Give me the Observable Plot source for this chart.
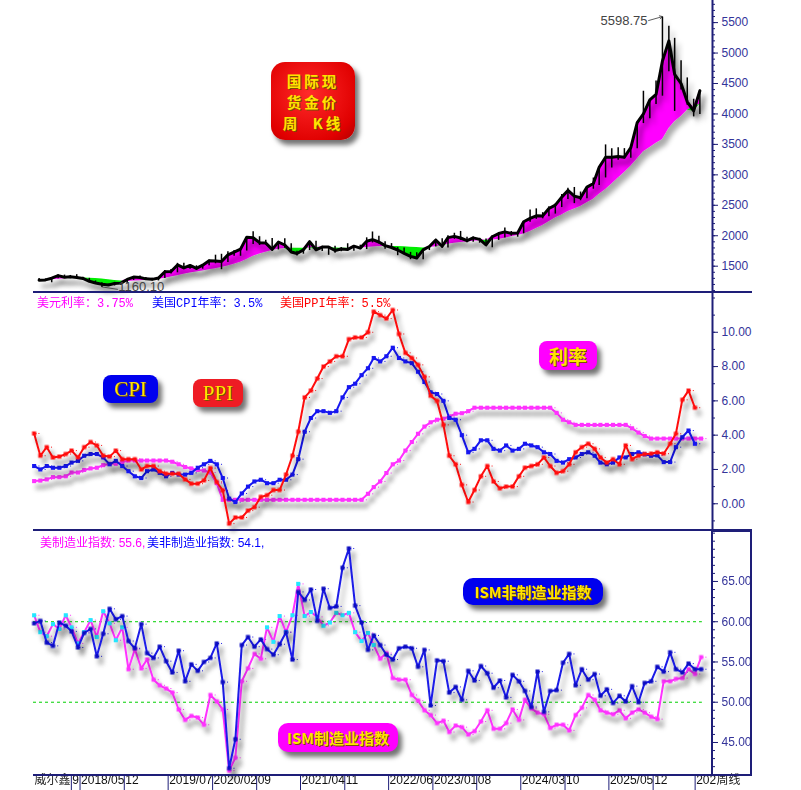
<!DOCTYPE html>
<html><head><meta charset="utf-8">
<script src="https://cdn.jsdelivr.net/npm/d3@7"></script>
<script src="https://cdn.jsdelivr.net/npm/@observablehq/plot@0.6"></script>
<style>
body{margin:0;background:#fff;}
#root{position:relative;width:801px;height:790px;overflow:hidden;background:#fff;font-family:"Liberation Sans",Arial,"Noto Sans CJK SC",sans-serif;}
.panel{position:absolute;left:0;}
.sep{position:absolute;background:#1e1e78;}
.badge{position:absolute;display:flex;align-items:center;justify-content:center;color:#ffe400;font-weight:bold;box-shadow:4px 5px 5px rgba(0,0,0,.55);text-shadow:1px 1px 0 #7a5000;z-index:5;}
.hdr{position:absolute;white-space:pre;font-size:12px;z-index:5;}
</style></head><body><div id="root"></div>
<script>
// ---------------- DATA ----------------
// Gold weekly K-line, summarised per month from 2017-10 to 2026-07
const goldHigh = [1306,1299,1307,
 1366,1362,1356,1369,1326,1309,1266,1235,1214,1243,1238,1285,
 1326,1347,1324,1310,1305,1439,1453,1555,1557,1517,1515,1523,
 1611,1689,1704,1747,1765,1789,1984,2075,1992,1933,1965,1906,
 1959,1875,1755,1798,1913,1916,1834,1832,1834,1814,1877,1831,
 1853,1974,2070,1998,1910,1879,1814,1808,1735,1729,1786,1833,
 1949,1960,2009,2049,2079,1983,1987,1966,1953,2009,2052,2135,
 2078,2065,2222,2431,2450,2387,2483,2531,2685,2790,2801,2726,
 2817,2956,3128,3500,3435,3452,3439,3453,3871,4381,4245,4550,
 5598,5450,5250,4880,4600,4250,4400];
const goldLow = [1260,1264,1236,
 1302,1307,1303,1310,1282,1245,1211,1160,1180,1183,1196,1221,
 1275,1311,1281,1266,1266,1306,1381,1400,1459,1459,1445,1459,
 1517,1548,1451,1567,1670,1671,1757,1863,1848,1860,1764,1775,
 1802,1717,1677,1705,1765,1750,1751,1687,1721,1746,1759,1753,
 1780,1781,1890,1872,1787,1805,1681,1709,1615,1618,1616,1765,
 1823,1804,1809,1949,1932,1893,1902,1885,1846,1810,1931,1973,
 2002,1984,2039,2229,2277,2286,2319,2364,2471,2604,2536,2583,
 2615,2772,2833,2957,3121,3248,3268,3282,3436,3850,3931,4163,
 4300,4700,4050,4400,4150,3960,4000];
const goldClose = [1271,1275,1303,
 1345,1318,1325,1315,1298,1252,1224,1202,1192,1215,1222,1282,
 1321,1313,1292,1284,1305,1409,1413,1520,1472,1513,1464,1517,
 1589,1585,1577,1686,1730,1781,1975,1967,1886,1879,1776,1895,
 1848,1734,1708,1768,1903,1770,1814,1814,1757,1783,1774,1829,
 1797,1909,1937,1897,1838,1807,1766,1711,1661,1634,1769,1824,
 1928,1827,1969,1990,1963,1919,1965,1940,1849,1983,2036,2063,
 2039,2044,2229,2286,2327,2326,2447,2503,2634,2744,2650,2625,
 2798,2858,3124,3288,3289,3303,3290,3448,3858,4000,4230,4320,
 4870,5200,4650,4500,4200,4050,4380];
const goldMA = [1262,1268,1276,
 1285,1292,1300,1305,1306,1303,1298,1290,1278,1265,1255,1250,
 1255,1262,1270,1276,1282,1300,1322,1345,1368,1390,1405,1420,
 1440,1460,1480,1505,1530,1565,1610,1665,1700,1730,1758,1780,
 1790,1795,1795,1795,1800,1805,1805,1805,1800,1795,1795,1798,
 1800,1805,1815,1822,1825,1825,1822,1818,1812,1805,1800,1805,
 1820,1840,1860,1875,1888,1898,1908,1918,1926,1932,1940,1960,
 1985,2005,2030,2070,2120,2170,2230,2290,2340,2400,2440,2480,
 2540,2600,2680,2760,2850,2950,3040,3140,3260,3380,3450,3520,
 3580,3760,3870,3960,4060,4120,4160];

// Monthly macro series, data months from 2017-09
const fedRate = [1.32,1.35,1.42,1.55,1.55,1.6,1.82,1.82,1.97,2.06,2.1,2.25,2.33,2.33,2.43,2.52,
 2.52,2.52,2.52,2.52,2.52,2.52,
 2.45,2.3,2.14,2.06,1.97,1.94,1.82,1.2,
 0.23,0.23,0.23,0.23,0.23,0.23,0.23,0.23,0.23,0.23,0.23,0.23,0.23,0.23,0.23,0.23,0.23,0.23,0.23,0.23,0.23,0.23,0.23,
 0.58,0.97,1.3,1.79,2.3,2.52,3.1,3.6,4.08,4.5,4.75,4.9,4.96,5.09,5.25,5.28,5.4,5.6,
 5.6,5.6,5.6,5.6,5.6,5.6,5.6,5.6,5.6,5.6,5.6,5.6,
 5.3,4.9,4.75,4.6,4.6,4.6,4.6,4.6,4.6,4.6,4.6,4.6,
 4.4,4.15,3.95,3.8,3.8,3.8,3.8,3.8,3.8,3.8,3.8,3.8];
const cpiYoY = [2.2,2.0,2.2,2.1,
 2.1,2.2,2.4,2.5,2.8,2.9,2.9,2.7,2.3,2.5,2.2,1.9,
 1.6,1.5,1.9,2.0,1.8,1.6,1.8,1.7,1.7,1.8,2.1,2.3,
 2.5,2.3,1.5,0.3,0.1,0.6,1.0,1.3,1.4,1.2,1.2,1.4,
 1.4,1.7,2.6,4.2,5.0,5.4,5.4,5.3,5.4,6.2,6.8,7.0,
 7.5,7.9,8.5,8.3,8.6,9.1,8.5,8.3,8.2,7.7,7.1,6.5,
 6.4,6.0,5.0,4.9,4.0,3.0,3.2,3.7,3.7,3.2,3.1,3.4,
 3.1,3.2,3.5,3.4,3.3,3.0,2.9,2.5,2.4,2.6,2.7,2.9,
 3.0,2.8,2.4,2.3,2.4,2.7,2.7,2.9,3.0,2.88,2.8,2.82,
 2.43,2.43,3.3,3.88,4.27,3.5];
const ppiYoY = [4.1,2.8,3.3,2.7,
 2.75,2.9,3.1,2.7,3.3,3.6,3.4,2.8,2.75,3.1,2.6,2.6,
 2.6,2.0,2.2,2.2,1.9,1.75,1.75,1.75,1.42,1.17,1.17,1.36,
 2.08,1.27,0.78,-1.16,-0.8,-0.8,-0.4,-0.2,0.4,0.5,0.8,0.8,
 1.7,2.8,4.2,6.2,6.6,7.3,8.0,8.3,8.6,8.6,9.6,9.7,
 9.7,10.0,11.2,11.0,10.8,11.3,9.9,8.8,8.5,8.1,7.4,6.3,
 6.0,4.6,2.8,2.3,1.1,0.1,0.8,1.6,2.2,1.3,0.9,1.0,
 1.0,1.6,2.1,2.2,2.3,2.7,2.2,1.8,1.9,2.3,3.0,3.3,
 3.5,3.2,2.7,2.4,2.6,2.3,3.4,2.6,2.8,2.9,2.92,3.0,
 2.92,3.5,4.08,6.06,6.6,5.6];
const ismMfg = [60.8,58.7,58.2,59.7,
 59.1,60.8,59.3,57.3,58.7,60.2,58.1,61.3,59.8,57.7,59.3,54.1,
 56.6,54.2,55.3,52.8,52.1,51.7,51.2,49.1,47.8,48.3,48.1,47.2,
 50.9,50.1,49.1,41.5,43.1,52.6,54.2,56.0,55.4,59.3,57.5,60.7,
 58.7,60.8,64.7,60.7,61.2,60.6,59.5,59.9,61.1,60.8,61.1,58.7,
 57.6,58.6,57.1,55.4,56.1,53.0,52.8,52.8,50.9,50.2,49.0,48.4,
 47.4,47.7,46.3,47.1,46.9,46.0,46.4,47.6,49.0,46.7,46.7,47.4,
 49.1,47.8,50.3,49.2,48.7,48.5,46.8,47.2,47.2,46.5,48.4,49.3,
 50.9,50.3,49.0,48.7,48.5,49.0,48.0,48.7,49.1,48.7,48.2,47.9,
 52.6,52.6,52.9,53.0,54.1,53.5,55.6];
const ismSvc = [59.8,60.1,57.4,57.0,
 59.9,59.5,58.8,56.8,58.6,59.1,55.7,58.5,61.6,60.3,60.7,57.6,
 56.7,59.7,56.1,55.5,56.9,55.1,53.7,56.4,52.6,54.7,53.9,55.0,
 55.5,57.3,52.5,41.8,45.4,57.1,58.1,56.9,57.8,56.6,55.9,57.2,
 58.7,55.3,63.7,62.7,64.0,60.1,64.1,61.7,61.9,66.7,69.1,62.0,
 59.9,56.5,58.3,57.1,55.9,55.3,56.7,56.9,56.7,54.4,56.5,49.6,
 55.2,55.1,51.2,51.9,50.3,53.9,52.7,54.5,53.6,51.8,52.7,50.6,
 53.4,52.6,51.4,49.4,53.8,48.8,51.4,51.5,54.9,56.0,52.1,54.1,
 52.8,53.5,50.8,51.6,49.9,50.8,50.1,52.0,50.0,52.4,52.6,54.4,
 53.8,56.2,54.1,53.7,54.8,54.1,54.1];

// Axis ticks
const goldTicks = [1500,2000,2500,3000,3500,4000,4500,5000,5500];
const rateTicks = [0,2,4,6,8,10];
const ismTicks = [45,50,55,60,65];
const ismRefLines = [60,50];
const xTickDates = [[2018,2,20],[2018,4,1],[2018,11,1],[2019,6,1],[2020,1,1],[2020,8,1],[2021,3,1],[2021,10,1],[2022,5,1],[2023,0,1],[2023,7,1],[2024,2,1],[2024,9,1],[2025,4,1],[2025,11,1],[2026,5,22]];
const xTickLabels = ["9","2018/05","12","2019/07","2020/02","09","2021/04","11","2022/06","2023/01","08","2024/03","10","2025/05","12","202"];

// Annotations
const peakNote = {date:[2026,0,15], value:5598.75, label:"5598.75", from:[2025,10,9], fromValue:5534};
const lowNote = {date:[2018,7,15], value:1160, label:"1160.10", to:[2018,9,29], toValue:1120, text:[2018,10,2], textValue:1166};

// ---------------- BUILD ----------------
const NAVY = "#1e1e78", LBL = "#34349a";
const D0 = new Date(2017,8,18), D1 = new Date(2026,8,14);
const mk = a => new Date(a[0],a[1],a[2]);
const gold = goldClose.map((c,i)=>({date:new Date(2017,9+i,15), high:goldHigh[i], low:goldLow[i], close:c, ma:goldMA[i]}));
const ser = arr => arr.map((v,i)=>({date:new Date(2017,8+i,21), v}));
const rateS = ser(fedRate), cpiS = ser(cpiYoY), ppiS = ser(ppiYoY), mfgS = ser(ismMfg), svcS = ser(ismSvc);
const xTicks = xTickDates.map((d,i)=>({date:mk(d), label:xTickLabels[i]}));
const rng = (a,b,s)=>d3.range(a,b+1e-9,s);
const style = {fontFamily:"'Liberation Sans',Arial,'Noto Sans CJK SC',sans-serif", fontSize:"12px", background:"transparent", overflow:"visible"};
const base = {width:801, marginLeft:33, marginRight:89, style};
const xOpt = {type:"time", domain:[D0,D1], label:null};

function axes(majors, minors, fmt){
  return [
    Plot.axisY({anchor:"right", ticks:minors, tickSize:2, tickFormat:()=>"", stroke:NAVY, label:null}),
    Plot.axisY({anchor:"right", ticks:majors, tickSize:5, tickPadding:4, tickFormat:fmt, stroke:NAVY, fill:LBL, fontSize:12, label:null})
  ];
}
function dashes(s,color){
  return Plot.ruleY(s,{y:"v", x1:d=>d3.timeDay.offset(d.date,4), x2:d=>d3.timeDay.offset(d.date,28), stroke:color, strokeWidth:1, strokeDasharray:"2,2"});
}
function series(s,color,mcolor){
  return [
    Plot.lineY(s,{x:"date", y:"v", stroke:color, strokeWidth:2}),
    Plot.dot(s,{x:"date", y:"v", symbol:"square", r:2.3, fill:mcolor||color, stroke:"none"})
  ];
}

// Panel 1 : gold
const p1 = Plot.plot({...base, height:292, marginTop:0, marginBottom:0,
  x:{...xOpt, axis:null}, y:{domain:[1068,5863], label:null},
  marks:[
    Plot.areaY(gold,{x:"date", y1:"ma", y2:d=>Math.max(d.close,d.ma), fill:"#ff00ff"}),
    Plot.areaY(gold,{x:"date", y1:d=>Math.min(d.close,d.ma), y2:"ma", fill:"#00ee00"}),
    Plot.link(gold,{x1:"date", x2:"date", y1:"low", y2:"high", stroke:"#000", strokeWidth:1.5}),
    Plot.lineY(gold,{x:"date", y:"close", stroke:"#000", strokeWidth:3}),
    Plot.ruleX([D1],{stroke:NAVY, strokeWidth:2}),
    ...axes(goldTicks, rng(1100,5800,100), d=>String(d)),
    Plot.arrow([peakNote],{x1:d=>mk(d.from), y1:"fromValue", x2:d=>mk(d.date), y2:"value", stroke:"#333", strokeWidth:0.8, headLength:6, bend:0}),
    Plot.text([peakNote],{x:d=>mk(d.from), y:"fromValue", text:"label", textAnchor:"end", dx:-1, fill:"#444", fontSize:13}),
    Plot.arrow([lowNote],{x1:d=>mk(d.date), y1:"value", x2:d=>mk(d.to), y2:"toValue", stroke:"#333", strokeWidth:0.8, headLength:0, bend:0}),
    Plot.text([lowNote],{x:d=>mk(d.text), y:"textValue", text:"label", textAnchor:"start", fill:"#444", fontSize:13})
  ]});

// Panel 2 : rates
const p2 = Plot.plot({...base, height:238, marginTop:0, marginBottom:0,
  x:{...xOpt, axis:null}, y:{domain:[-1.56,12.32], label:null},
  marks:[
    dashes(rateS,"#ff30ff"), dashes(cpiS,"#1515f0"), dashes(ppiS,"#ff1010"),
    ...series(rateS,"#ff30ff"),
    ...series(cpiS,"#1515f0"),
    ...series(ppiS,"#ff1010"),
    Plot.ruleX([D1],{stroke:NAVY, strokeWidth:2}),
    ...axes(rateTicks, rng(-1,12,1), d=>d.toFixed(2))
  ]});

// Panel 3 : ISM
const lastIsm = mfgS[mfgS.length-1].date;
const p3 = Plot.plot({...base, height:260, marginTop:0, marginBottom:15,
  x:xOpt, y:{domain:[40.9,71.33], label:null},
  marks:[
    Plot.ruleY(ismRefLines,{x1:D0, x2:d3.timeDay.offset(lastIsm,6), stroke:"#00d000", strokeWidth:1, strokeDasharray:"3,3"}),
    dashes(mfgS,"#ff33ff"), dashes(svcS,"#1a1ae8"),
    Plot.lineY(mfgS,{x:"date", y:"v", stroke:"#ff33ff", strokeWidth:2}),
    Plot.dot(mfgS.filter(d=>d.v<57),{x:"date", y:"v", symbol:"square", r:2.3, fill:"#ff33ff"}),
    Plot.dot(mfgS.filter(d=>d.v>=57),{x:"date", y:"v", symbol:"square", r:2.3, fill:"#22e8ff"}),
    Plot.lineY(svcS,{x:"date", y:"v", stroke:"#1a1ae8", strokeWidth:2}),
    Plot.dot(svcS,{x:"date", y:"v", symbol:"square", r:2.3, fill:"#0a0ac0"}),
    ...axes(ismTicks, rng(41,71,1), d=>d.toFixed(2)),
    Plot.axisX({ticks:xTicks.map(d=>d.date), tickSize:15, tickFormat:()=>"", stroke:NAVY, label:null}),
    Plot.text(xTicks,{x:"date", text:"label", frameAnchor:"bottom", dy:8, dx:1, textAnchor:"start", fontSize:12, fill:"#111"}),
    Plot.text(["威尔鑫"],{frameAnchor:"bottom-left", dy:8, dx:1, textAnchor:"start", fontSize:12, fill:"#222"}),
    Plot.text(["周线"],{frameAnchor:"bottom-right", dy:8, dx:4, textAnchor:"start", fontSize:12, fill:"#222"})
  ]});

// ---------------- LAYOUT ----------------
const root = document.getElementById("root");
let fid = 0;
function shadow(svg, sel){
  const ns="http://www.w3.org/2000/svg", id="sh"+(fid++);
  const defs=document.createElementNS(ns,"defs");
  defs.innerHTML='<filter id="'+id+'" filterUnits="userSpaceOnUse" x="-50" y="-50" width="950" height="450"><feDropShadow dx="4" dy="6" stdDeviation="2.5" flood-color="#000" flood-opacity="0.33"/></filter>';
  svg.insertBefore(defs, svg.firstChild);
  sel.forEach(g=>g && g.setAttribute("filter","url(#"+id+")"));
}
function place(svg, top){
  const d=document.createElement("div"); d.className="panel"; d.style.top=top+"px"; d.appendChild(svg); root.appendChild(d);
}
place(p1,0); place(p2,292); place(p3,530);
shadow(p1, [...p1.querySelectorAll('g[aria-label="area"]'), p1.querySelectorAll('g[aria-label="link"]')[0], ...p1.querySelectorAll('g[aria-label="line"]')]);
shadow(p2, [...p2.querySelectorAll('g[aria-label="line"]'), ...p2.querySelectorAll('g[aria-label="dot"]')]);
shadow(p3, [...p3.querySelectorAll('g[aria-label="line"]'), ...p3.querySelectorAll('g[aria-label="dot"]')]);

function add(html){ root.insertAdjacentHTML("beforeend", html); }
// separators and right box
add('<div class="sep" style="left:33px;top:291px;width:719px;height:2px"></div>');
add('<div class="sep" style="left:33px;top:529px;width:719px;height:2px"></div>');
add('<div class="sep" style="left:33px;top:774px;width:719px;height:2px"></div>');
add('<div style="position:absolute;left:711px;top:530px;width:41px;height:246px;border:2px solid #1e1e78;box-sizing:border-box"></div>');
// headers
const mono="font-family:'Liberation Mono','Noto Sans CJK SC',monospace;";
add('<div class="hdr" style="'+mono+'left:37px;top:293px;color:#ff00ff">美元利率：3.75%</div>');
add('<div class="hdr" style="'+mono+'left:152px;top:293px;color:#0000ff">美国CPI年率：3.5%</div>');
add('<div class="hdr" style="'+mono+'left:280px;top:293px;color:#ff0000">美国PPI年率：5.5%</div>');
add('<div class="hdr" style="left:40px;top:533px;color:#ff00ff">美制造业指数: 55.6,</div>');
add('<div class="hdr" style="left:147px;top:533px;color:#0000ff">美非制造业指数: 54.1,</div>');
// badges
const cj="font-family:'Noto Sans CJK SC',sans-serif;";
add('<div class="badge" style="'+cj+'left:271px;top:62px;width:84px;height:78px;border-radius:14px;background:radial-gradient(circle at 45% 40%,#ff2a2a,#e00000 75%,#b00000);font-size:14.5px;line-height:21px;letter-spacing:3px;text-align:center;">'
  +'国际现<br>货金价<br>周&nbsp;&nbsp;K线</div>');
add('<div class="badge" style="font-family:\'Liberation Serif\',serif;font-weight:normal;left:103px;top:375px;width:55px;height:28px;border-radius:8px;background:#0000ee;font-size:21px;">CPI</div>');
add('<div class="badge" style="font-family:\'Liberation Serif\',serif;font-weight:normal;left:193px;top:379px;width:50px;height:28px;border-radius:8px;background:#ee1c24;font-size:21px;">PPI</div>');
add('<div class="badge" style="'+cj+'left:539px;top:341px;width:58px;height:29px;border-radius:8px;background:#ff00ff;font-size:19px;">利率</div>');
add('<div class="badge" style="'+cj+'left:278px;top:723px;width:120px;height:29px;border-radius:10px;background:#ff00ff;font-size:15px;">ISM制造业指数</div>');
add('<div class="badge" style="'+cj+'left:463px;top:578px;width:140px;height:27px;border-radius:10px;background:#0000ee;font-size:15px;">ISM非制造业指数</div>');
</script></body></html>
